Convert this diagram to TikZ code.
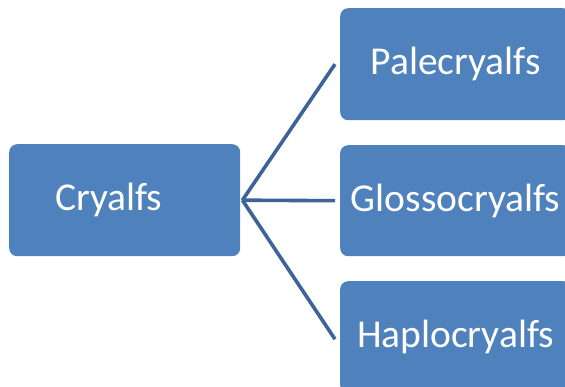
\documentclass[tikz,border=0pt]{standalone}
\usepackage{fontspec}
\setmainfont{Carlito}
\definecolor{boxfill}{HTML}{4F81BD}
\definecolor{linkcol}{HTML}{3C6496}
\begin{document}
\begin{tikzpicture}[x=1pt,y=-1pt,
  box/.style={fill=boxfill, rounded corners=8pt, minimum width=231pt, minimum height=112pt, inner sep=0pt, text=white, font=\fontsize{39.5}{39.5}\selectfont, anchor=north west},
  link/.style={draw=linkcol, line width=3.6pt}]
\useasboundingbox (0,0) rectangle (565,387);
\clip (0,0) rectangle (565,387);
\node[box, label={[text=white, font=\fontsize{39.5}{39.5}\selectfont, xshift=-16pt]center:Cryalfs}] (root) at (9,144) {};
\node[box, minimum height=112pt] (pale) at (340,8) {Palecryalfs};
\node[box, minimum height=111pt] (glos) at (340,145) {Glossocryalfs};
\node[box, minimum height=112pt] (hapl) at (340,281) {Haplocryalfs};
\draw[link] ([xshift=2pt]root.east) -- ([xshift=-5pt]pale.west);
\draw[link] ([xshift=2pt]root.east) -- ([xshift=-5pt]glos.west);
\draw[link] ([xshift=2pt]root.east) -- ([xshift=-5pt,yshift=-2pt]hapl.west);
\end{tikzpicture}
\end{document}
